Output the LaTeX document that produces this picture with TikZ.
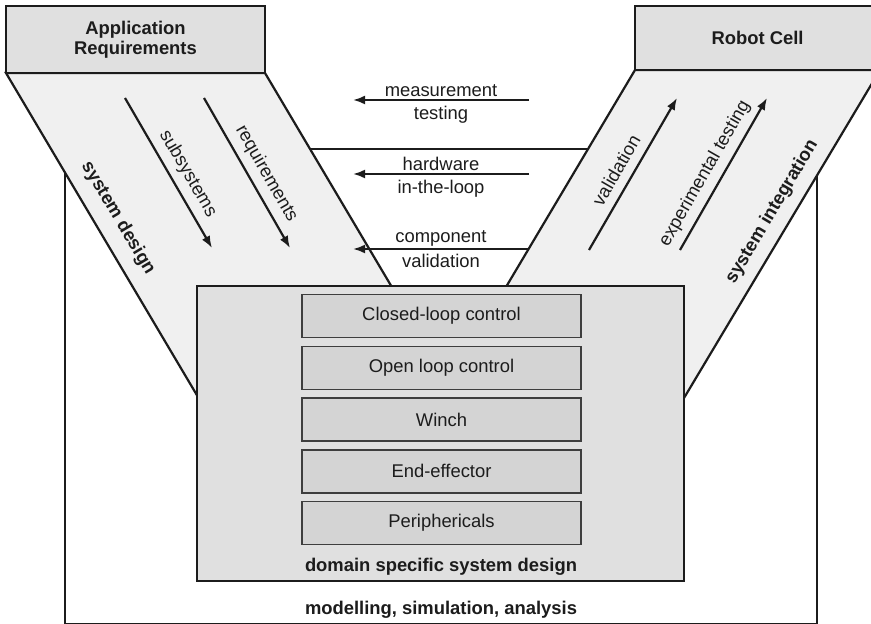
\documentclass[tikz,border=0pt]{standalone}
\usepackage{fontspec}
\setmainfont{Liberation Sans}
\usepackage{xcolor}
\usepackage{tikz}
\usetikzlibrary{arrows.meta}

\definecolor{headgray}{HTML}{E0E0E0}
\definecolor{bandgray}{HTML}{F0F0F0}
\definecolor{blockgray}{HTML}{D4D4D4}
\definecolor{ink}{HTML}{1C1C1C}

\begin{document}
\begin{tikzpicture}[x=0.5pt,y=-0.5pt,
    font=\fontsize{9.2}{10}\selectfont, text=ink,
    frame/.style={draw=ink,line width=1.1pt},
    headbox/.style={frame,fill=headgray,align=center,inner sep=0pt,font=\fontsize{9.2}{10}\selectfont\bfseries},
    block/.style={draw=ink!85,line width=0.7pt,fill=blockgray,inner sep=0pt,minimum width=139.5pt,minimum height=21.5pt},
    flow/.style={draw=ink,line width=1.1pt,-{Latex[length=6pt,width=4.5pt]}},
    boldlabel/.style={font=\fontsize{9.2}{10}\selectfont\bfseries}]
    \useasboundingbox (0,0) rectangle (871,624);

    % outer frame and the two slanted bands of the V
    \draw[frame,fill=white] (65,149) rectangle (817,624);
    \draw[frame,fill=bandgray] (6,73) -- (265,73) -- (457,397) -- (198,397) -- cycle;
    \draw[frame,fill=bandgray] (635,70) -- (880,70) -- (684,398) -- (440,398) -- cycle;

    \node[headbox,minimum width=129.5pt,minimum height=33.5pt] (appreq) at (135.5,39.5) {Application\\Requirements};
    \node[headbox,minimum width=122.5pt,minimum height=32pt] (robotcell) at (757.5,38) {Robot Cell};

    \node[frame,fill=headgray,minimum width=243.5pt,minimum height=147.5pt] (domain) at (440.5,433.5) {};
    \foreach \txt [count=\i from 0] in {Closed-loop control,Open loop control,Winch,End-effector,Periphericals} {
      \node[block] (blk\i) at (441.5,{316+51.8*\i}) {\txt};
    }
    \node[boldlabel] (dsd) at (441,567) {domain specific system design};
    \node[boldlabel] (msa) at (441,610) {modelling, simulation, analysis};

    % test loops in the middle
    \coordinate (meas-a) at (529,100);  \coordinate (meas-b) at (353,100);
    \coordinate (hil-a) at (529,174);   \coordinate (hil-b) at (353,174);
    \coordinate (comp-a) at (529,249);  \coordinate (comp-b) at (353,249);
    \draw[flow] (meas-a) -- node[above=0pt,inner sep=1pt] (meas-t) {measurement} node[below=1.5pt,inner sep=1pt] (meas-u) {testing} (meas-b);
    \draw[flow] (hil-a) -- node[above=0pt,inner sep=1pt] (hil-t) {hardware} node[below=1.5pt,inner sep=1pt] (hil-u) {in-the-loop} (hil-b);
    \draw[flow] (comp-a) -- node[above=0pt,inner sep=1pt] (comp-t) {component} node[below=1pt,inner sep=1pt] (comp-u) {validation} (comp-b);

    % left branch
    \coordinate (sub-a) at (125,98);  \coordinate (sub-b) at (212,248);
    \coordinate (req-a) at (204,98);  \coordinate (req-b) at (290,248);
    \draw[flow] (sub-a) -- node[sloped,above,pos=0.56] (sub-t) {subsystems} (sub-b);
    \draw[flow] (req-a) -- node[sloped,above,pos=0.56] (req-t) {requirements} (req-b);
    \node[boldlabel,rotate=-59.3] (sysdes) at (118,218) {system design};

    % right branch
    \coordinate (val-a) at (589,250);  \coordinate (val-b) at (677,98);
    \coordinate (exp-a) at (680,250);  \coordinate (exp-b) at (767,98);
    \draw[flow] (val-a) -- node[sloped,above=1pt,pos=0.47] (val-t) {validation} (val-b);
    \draw[flow] (exp-a) -- node[sloped,above,pos=0.45] (exp-t) {experimental testing} (exp-b);
    \node[boldlabel,rotate=59.3] (sysint) at (772,212) {system integration};
\end{tikzpicture}
\end{document}
